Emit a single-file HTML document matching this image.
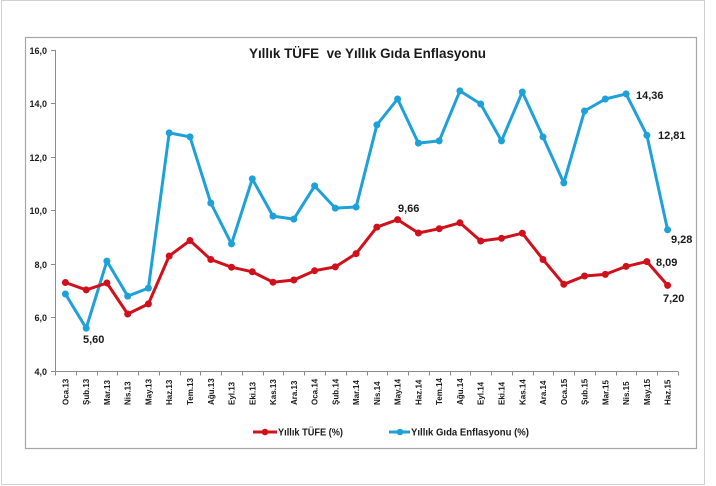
<!DOCTYPE html>
<html>
<head>
<meta charset="utf-8">
<style>
html,body{margin:0;padding:0;background:#fff;}
svg{display:block;}
text{font-family:"Liberation Sans",Arial,sans-serif;fill:#1a1a1a;}
</style>
</head>
<body>
<svg width="716" height="486" viewBox="0 0 716 486" xmlns="http://www.w3.org/2000/svg">
<rect x="0" y="0" width="716" height="486" fill="#fff"/>
<rect x="1.5" y="0.5" width="703" height="484" fill="none" stroke="#d2d2d2" stroke-width="1"/>
<rect x="25.5" y="37.5" width="671" height="411" fill="#fff" stroke="#a6a6a6" stroke-width="1.2"/>

<text x="367.5" y="58" font-size="13.4" font-weight="bold" text-anchor="middle" style="white-space:pre" textLength="237" lengthAdjust="spacingAndGlyphs">Yıllık TÜFE  ve Yıllık Gıda Enflasyonu</text>

<!-- Y axis -->
<g stroke="#8c8c8c" stroke-width="1">
<line x1="55.5" y1="50" x2="55.5" y2="371.5"/>
<line x1="51" y1="50.5" x2="55.5" y2="50.5"/>
<line x1="51" y1="103.5" x2="55.5" y2="103.5"/>
<line x1="51" y1="157.5" x2="55.5" y2="157.5"/>
<line x1="51" y1="210.5" x2="55.5" y2="210.5"/>
<line x1="51" y1="264.5" x2="55.5" y2="264.5"/>
<line x1="51" y1="317.5" x2="55.5" y2="317.5"/>
<line x1="51" y1="371.5" x2="55.5" y2="371.5"/>
<line x1="55" y1="371.5" x2="678" y2="371.5"/>
</g>
<g font-size="9" font-weight="bold" text-anchor="end">
<text x="47" y="54">16,0</text>
<text x="47" y="107">14,0</text>
<text x="47" y="161">12,0</text>
<text x="47" y="214">10,0</text>
<text x="47" y="268">8,0</text>
<text x="47" y="321">6,0</text>
<text x="47" y="375">4,0</text>
</g>

<!-- X ticks -->
<g stroke="#8c8c8c" stroke-width="1" id="xt"></g>
<g id="xl" font-size="8" font-weight="bold"></g>

<!-- Series -->
<g id="series"></g>

<!-- Data labels -->
<g font-size="11" font-weight="bold">
<text x="83" y="343">5,60</text>
<text x="398" y="212">9,66</text>
<text x="636" y="99">14,36</text>
<text x="658" y="139">12,81</text>
<text x="671" y="243">9,28</text>
<text x="656" y="266">8,09</text>
<text x="663" y="302">7,20</text>
</g>

<!-- Legend -->
<line x1="253" y1="432" x2="277" y2="432" stroke="#d0101a" stroke-width="3"/>
<circle cx="265" cy="432" r="3.3" fill="#d0101a"/>
<text x="278" y="435.5" font-size="10" font-weight="bold" textLength="65" lengthAdjust="spacingAndGlyphs">Yıllık TÜFE (%)</text>
<line x1="389" y1="432" x2="410" y2="432" stroke="#1ea0d8" stroke-width="3"/>
<circle cx="400" cy="432" r="3.3" fill="#1ea0d8"/>
<text x="411" y="435.5" font-size="10" font-weight="bold" textLength="118" lengthAdjust="spacingAndGlyphs">Yıllık Gıda Enflasyonu (%)</text>
</svg>
<script>
(function(){
var NS="http://www.w3.org/2000/svg";
var red=[7.31,7.03,7.29,6.13,6.51,8.30,8.88,8.17,7.88,7.71,7.32,7.40,7.75,7.89,8.39,9.38,9.66,9.16,9.32,9.54,8.86,8.96,9.15,8.17,7.24,7.55,7.61,7.91,8.09,7.20];
var blue=[6.88,5.60,8.11,6.80,7.10,12.90,12.75,10.28,8.75,11.18,9.79,9.68,10.92,10.09,10.13,13.20,14.17,12.52,12.60,14.47,13.98,12.60,14.43,12.75,11.03,13.72,14.17,14.36,12.81,9.28];
var months=["Oca","Şub","Mar","Nis","May","Haz","Tem","Ağu","Eyl","Eki","Kas","Ara"];
var step=623/30;
function X(i){return 55+step*(i+0.5);}
function Y(v){return 478-26.75*v;}
var xt=document.getElementById("xt"),xl=document.getElementById("xl"),s=document.getElementById("series");
for(var k=0;k<=30;k++){
 var l=document.createElementNS(NS,"line");var xx=Math.round(55+step*k)+0.5;
 l.setAttribute("x1",xx);l.setAttribute("x2",xx);l.setAttribute("y1",371.5);l.setAttribute("y2",375.5);xt.appendChild(l);
}
for(var i=0;i<30;i++){
 var yr=13+Math.floor(i/12);
 var t=document.createElementNS(NS,"text");
 var x=X(i)+3,y=405;
 t.setAttribute("x",x);t.setAttribute("y",y);
 t.setAttribute("transform","rotate(-90 "+x+" "+y+")");
 t.textContent=months[i%12]+"."+yr;xl.appendChild(t);
}
function draw(d,c){
 var p="";for(var i=0;i<d.length;i++){p+=(i?"L":"M")+X(i).toFixed(1)+","+Y(d[i]).toFixed(1);}
 var pa=document.createElementNS(NS,"path");pa.setAttribute("d",p);pa.setAttribute("fill","none");
 pa.setAttribute("stroke",c);pa.setAttribute("stroke-width","3");pa.setAttribute("stroke-linejoin","round");s.appendChild(pa);
 for(var j=0;j<d.length;j++){var ci=document.createElementNS(NS,"circle");ci.setAttribute("cx",X(j).toFixed(1));ci.setAttribute("cy",Y(d[j]).toFixed(1));ci.setAttribute("r","3.5");ci.setAttribute("fill",c);s.appendChild(ci);}
}
draw(blue,"#1ea0d8");
draw(red,"#d0101a");
})();
</script>
</body>
</html>
